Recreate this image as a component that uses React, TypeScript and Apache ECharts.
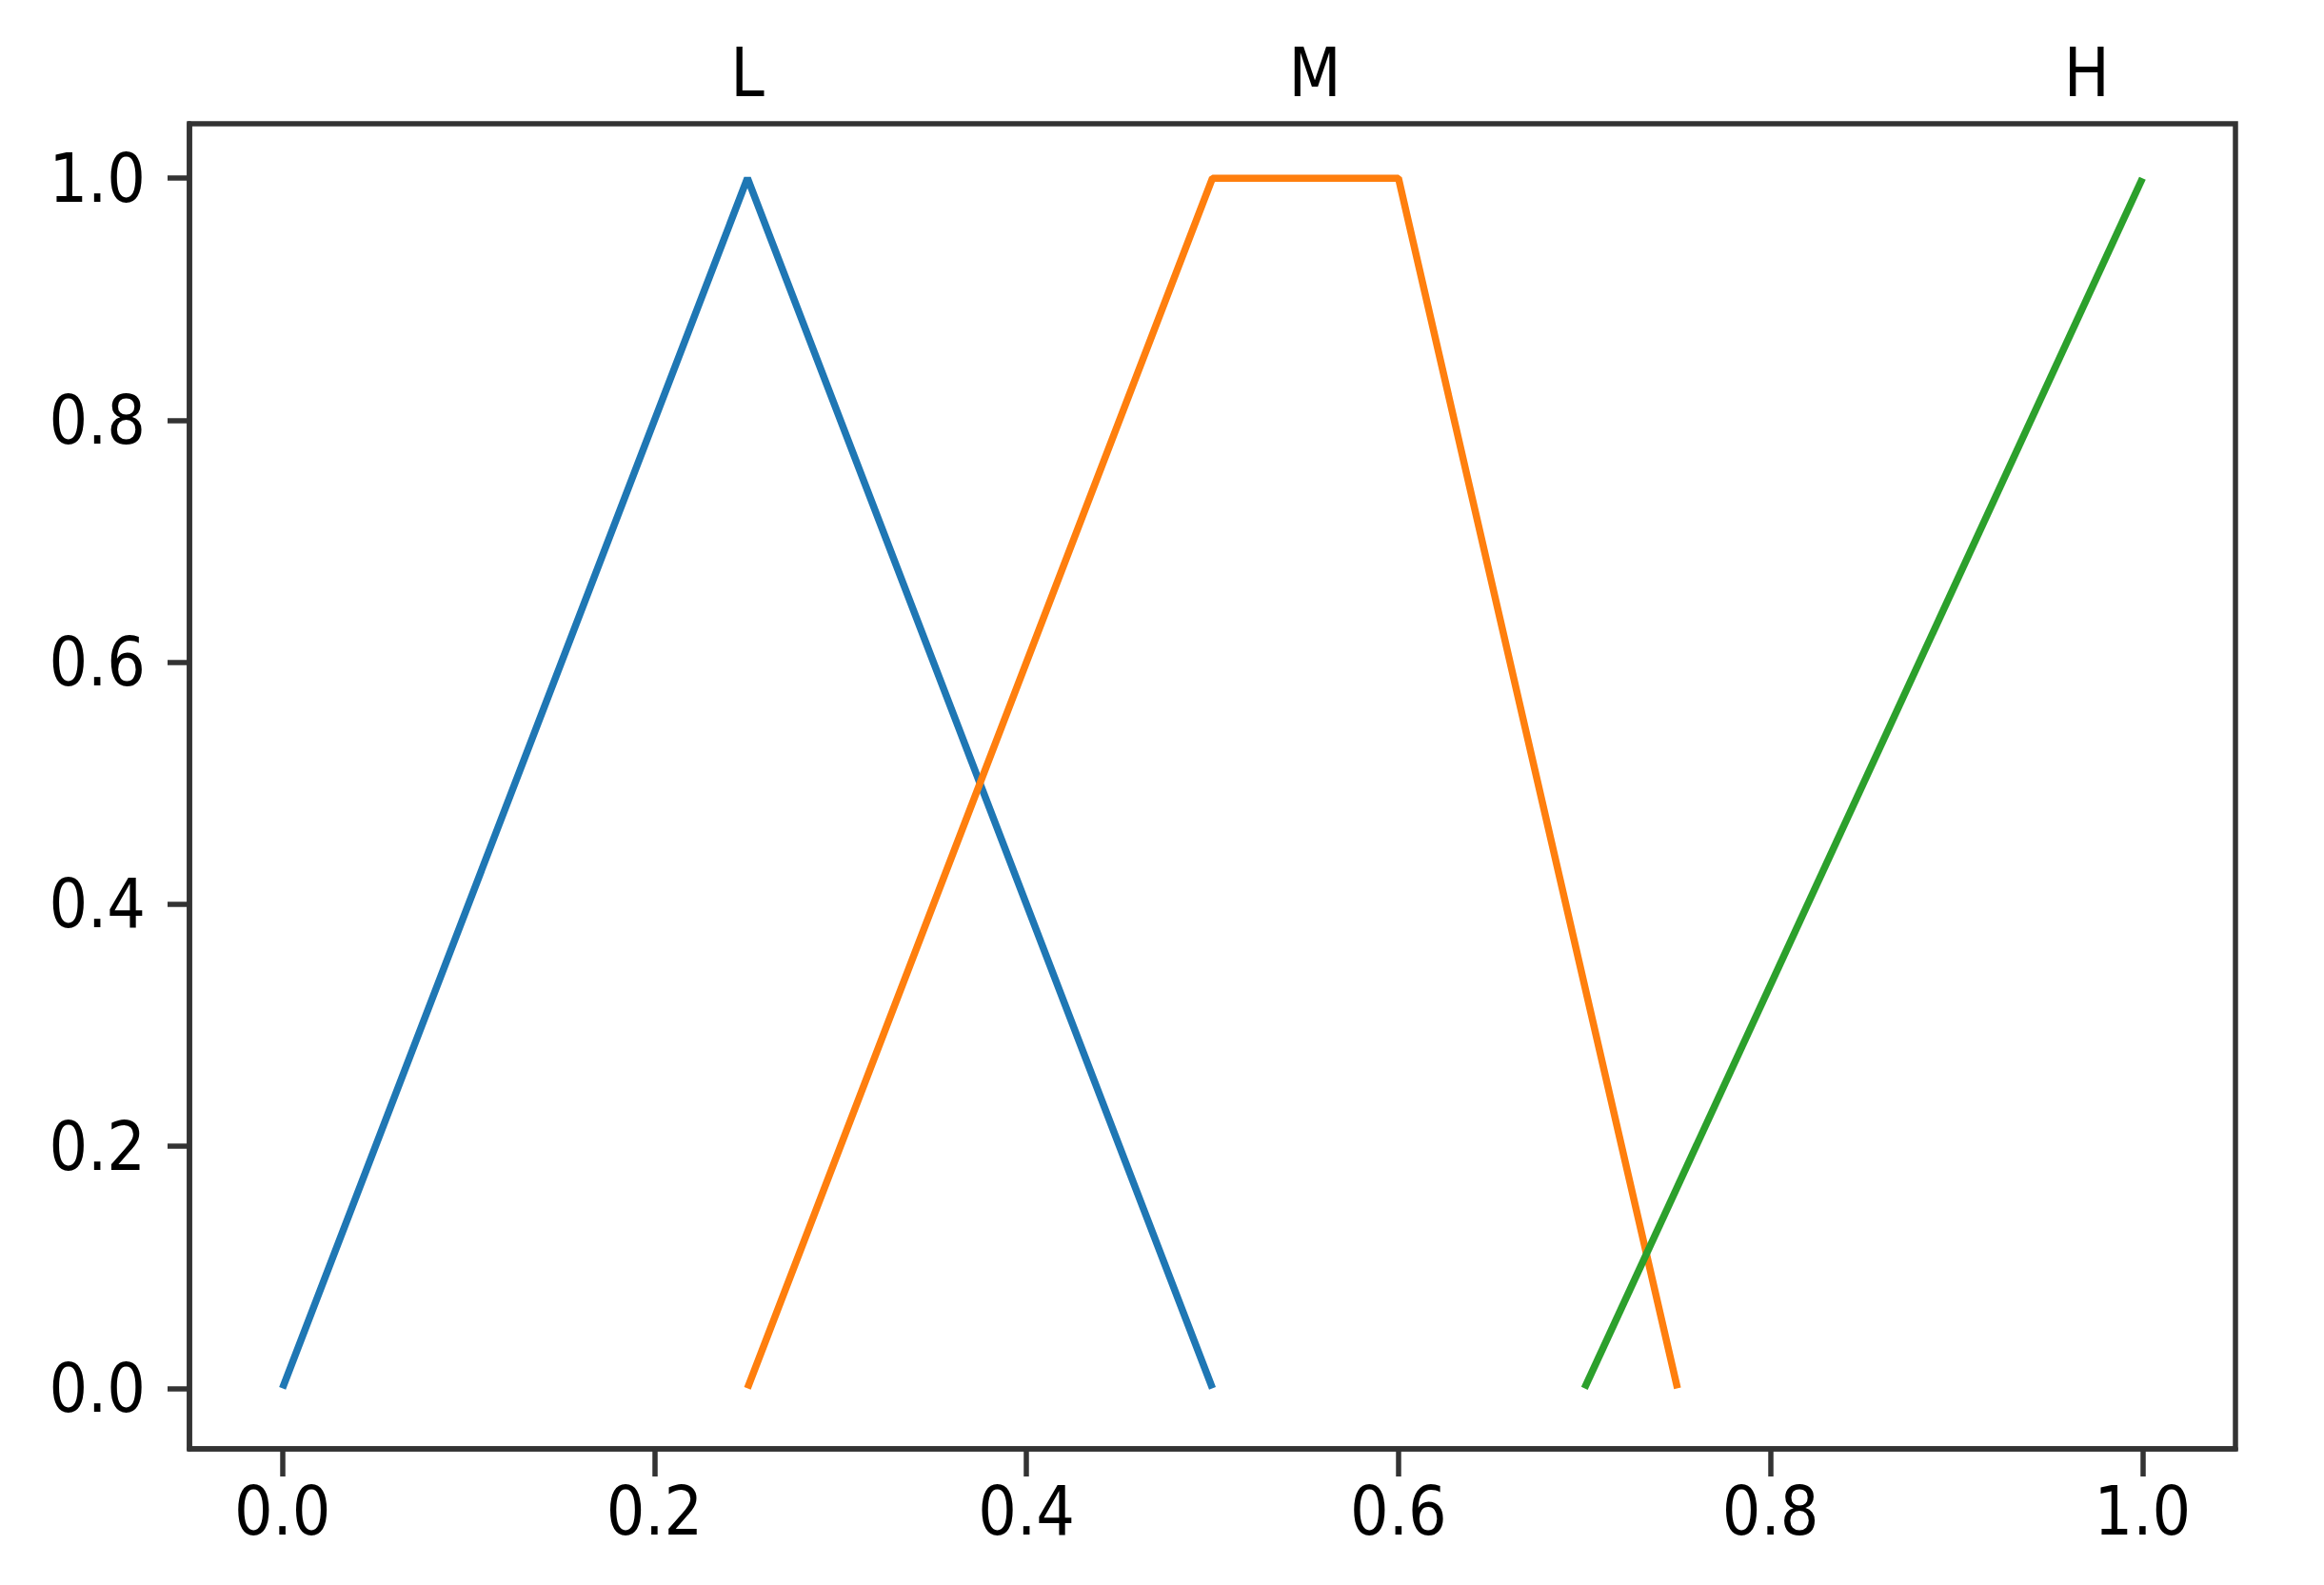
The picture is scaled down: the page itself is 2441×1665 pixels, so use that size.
import React, { useEffect, useRef } from "react";
import * as echarts from "echarts";

const lowX = [0, 0.25, 0.5];
const lowY = [0, 1, 0];
const medX = [0.25, 0.5, 0.6, 0.75];
const medY = [0, 1, 1, 0];
const highX = [0.7, 1.0];
const highY = [0, 1];

const xTicks = [0, 0.2, 0.4, 0.6, 0.8, 1.0];
const yTicks = [0, 0.2, 0.4, 0.6, 0.8, 1.0];
const topLabels = ["L", "M", "H"];
const topLabelPos = [0.25, 0.555, 0.97];

const colors = ["#1f77b4", "#ff7f0e", "#2ca02c"];
const FONT = "'DejaVu Sans Condensed', 'DejaVu Sans', sans-serif";

function pairs(xs: number[], ys: number[]) {
  return xs.map((x, i) => [x, ys[i]]);
}

export default function App() {
  const ref = useRef<HTMLDivElement>(null);
  useEffect(() => {
    if (!ref.current) return;
    const chart = echarts.init(ref.current, undefined, { renderer: "svg" });
    const spine = "#333333";
    const labelStyle = { color: "#000", fontSize: 71, fontFamily: FONT };
    chart.setOption({
      animation: false,
      backgroundColor: "#ffffff",
      grid: {
        left: 199,
        top: 130,
        width: 2149,
        height: 1392,
        show: true,
        borderColor: spine,
        borderWidth: 5.5,
        backgroundColor: "transparent",
      },
      xAxis: [
        {
          type: "value",
          min: -0.05,
          max: 1.05,
          position: "bottom",
          splitLine: { show: false },
          axisLine: { show: true, onZero: false, lineStyle: { color: spine, width: 5.5 } },
          axisTick: {
            show: true,
            length: 29,
            customValues: xTicks,
            lineStyle: { color: spine, width: 5.5 },
          },
          axisLabel: {
            ...labelStyle,
            margin: 30,
            customValues: xTicks,
            formatter: (v: number) => v.toFixed(1),
          },
        },
        {
          type: "value",
          min: -0.05,
          max: 1.05,
          position: "top",
          splitLine: { show: false },
          axisLine: { show: false, onZero: false },
          axisTick: { show: false },
          axisLabel: {
            ...labelStyle,
            margin: 18,
            customValues: topLabelPos,
            formatter: (v: number) => {
              const i = topLabelPos.findIndex((p) => Math.abs(p - v) < 1e-6);
              return i >= 0 ? topLabels[i] : "";
            },
          },
        },
      ],
      yAxis: {
        type: "value",
        min: -0.05,
        max: 1.045,
        splitLine: { show: false },
        axisLine: { show: true, onZero: false, lineStyle: { color: spine, width: 5.5 } },
        axisTick: {
          show: true,
          length: 23,
          customValues: yTicks,
          lineStyle: { color: spine, width: 5.5 },
        },
        axisLabel: {
          ...labelStyle,
          margin: 46,
          customValues: yTicks,
          formatter: (v: number) => v.toFixed(1),
        },
      },
      series: [
        { name: "L", data: pairs(lowX, lowY), color: colors[0] },
        { name: "M", data: pairs(medX, medY), color: colors[1] },
        { name: "H", data: pairs(highX, highY), color: colors[2] },
      ].map((s) => ({
        type: "line",
        name: s.name,
        data: s.data,
        xAxisIndex: 0,
        yAxisIndex: 0,
        showSymbol: false,
        symbol: "none",
        lineStyle: { color: s.color, width: 7.5 },
        itemStyle: { color: s.color },
      })),
    });
    return () => chart.dispose();
  }, []);
  return (
    <div
      ref={ref}
      style={{ position: "absolute", left: 0, top: 0, width: 2441, height: 1665, background: "#fff" }}
    />
  );
}
